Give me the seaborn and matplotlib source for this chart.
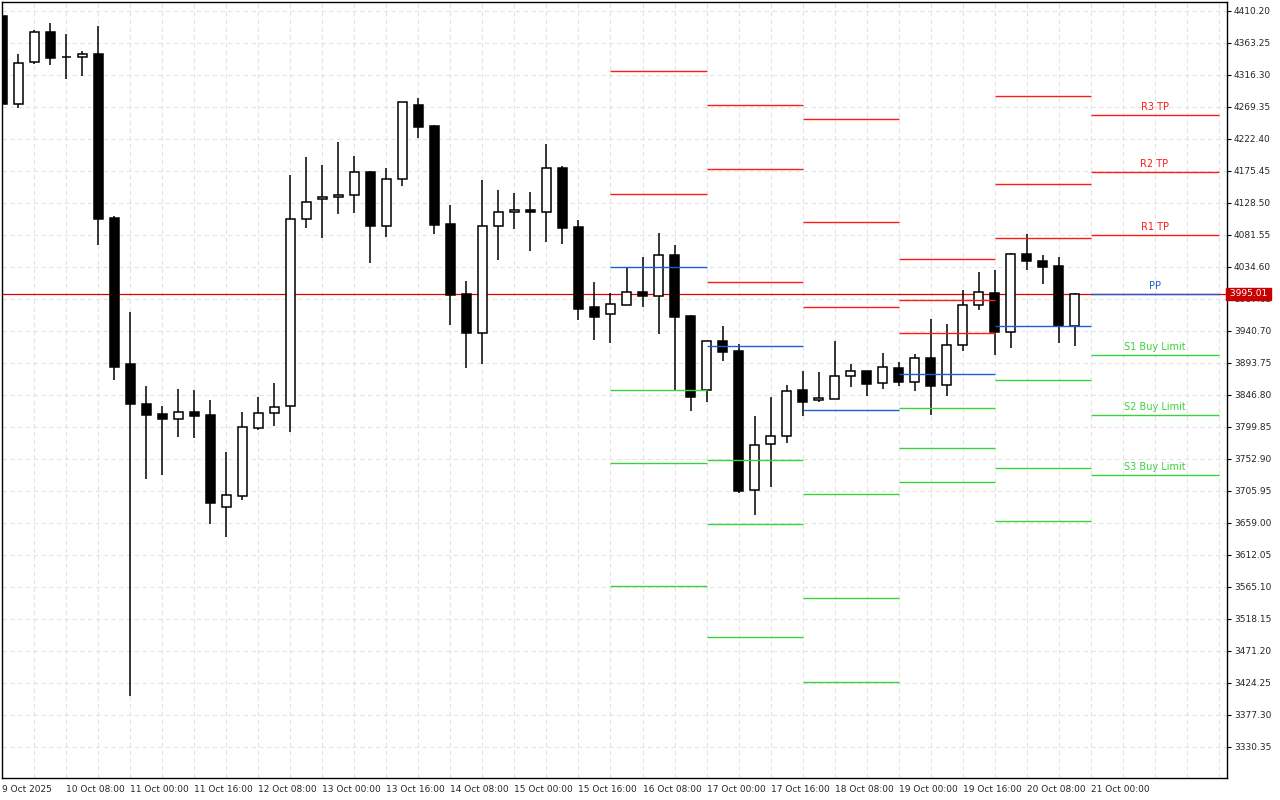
import matplotlib
matplotlib.use("Agg")
import matplotlib.pyplot as plt
import seaborn as sns
import numpy as np
import pandas as pd

sns.set_style("white")
plt.rcParams['font.family'] = ['DejaVu Sans']

opens = [4402.9,4273.8,4335.4,4379.4,4342.7,4342.7,4347.1,4106.5,3892.3,3833.6,
         3818.9,3811.6,3821.9,3817.5,3682.5,3698.6,3798.4,3820.4,3830.7,4105.0,
         4134.4,4137.3,4140.2,4174.0,4094.8,4163.7,4272.3,4241.5,4097.7,3995.0,
         3937.8,4094.8,4115.3,4118.2,4115.3,4179.9,4093.3,3975.9,3965.6,3978.8,
         3997.9,3992.1,4052.2,3962.7,3854.1,3926.0,3911.4,3707.4,3774.9,3786.6,
         3854.1,3839.5,3840.9,3874.7,3882.0,3864.4,3886.4,3865.9,3901.1,3861.5,
         3920.2,3978.8,3996.5,3939.2,4053.7,4043.4,4036.1,3948.0]
highs = [4405.8,4347.1,4382.3,4392.6,4376.5,4351.5,4388.2,4109.4,3968.6,3860.0,
         3830.7,3855.6,3854.1,3839.5,3763.2,3821.9,3843.9,3864.4,4169.6,4196.0,
         4184.3,4218.0,4197.5,4175.5,4179.9,4276.7,4282.6,4243.0,4125.6,4014.1,
         4162.2,4147.6,4143.2,4144.6,4215.1,4182.8,4103.6,4012.6,3996.5,4034.6,
         4049.3,4084.5,4066.9,3964.2,3926.0,3948.0,3921.6,3816.0,3843.9,3861.5,
         3882.0,3880.5,3926.0,3892.3,3882.0,3908.4,3895.2,3907.0,3958.3,3951.0,
         4000.9,4027.3,4030.2,4055.1,4083.0,4052.2,4049.3,3996.5]
lows = [4272.0,4267.9,4332.4,4331.0,4310.4,4314.8,4066.9,3868.8,3405.2,3723.6,
        3729.4,3785.2,3783.7,3657.5,3638.5,3692.7,3795.4,3801.3,3792.5,4091.8,
        4077.2,4112.4,4113.8,4040.5,4078.6,4153.4,4223.9,4083.0,3949.5,3886.4,
        3892.3,4044.9,4090.4,4058.1,4071.3,4068.3,3956.8,3927.5,3923.1,3978.8,
        3975.9,3936.3,3854.1,3823.3,3836.5,3896.7,3703.0,3670.7,3711.8,3776.4,
        3816.0,3836.5,3840.9,3858.5,3845.3,3855.6,3860.0,3852.7,3817.5,3845.3,
        3911.4,3971.5,3905.5,3915.8,4030.2,4009.7,3923.1,3918.7]
closes = [4273.8,4333.9,4379.4,4341.2,4342.0,4347.1,4105.0,3887.9,3833.6,3817.5,
          3811.6,3821.9,3816.0,3688.3,3700.1,3799.9,3820.4,3829.2,4105.0,4130.0,
          4137.3,4140.2,4174.0,4094.8,4163.7,4276.7,4240.0,4096.2,3993.5,3937.8,
          4094.8,4115.3,4118.2,4115.3,4179.9,4091.8,3973.0,3961.2,3980.3,3997.9,
          3992.1,4052.2,3961.2,3843.9,3926.0,3909.9,3705.9,3773.4,3786.6,3852.7,
          3836.5,3842.4,3874.7,3882.0,3862.9,3887.9,3865.9,3901.1,3860.0,3920.2,
          3978.8,3997.9,3939.2,4053.7,4043.4,4034.6,3948.0,3995.01]

# pivot levels per day: R3, R2, R1, PP, S1, S2, S3
pivot_start = [38, 44, 50, 56, 62, 68]
pivot_end = [44, 50, 56, 62, 68, 76]
R3 = [4429.3, 4272.3, 4251.8, 4046.3, 4285.5, 4257.6]
R2 = [4322.2, 4178.4, 4100.6, 3986.2, 4156.4, 4174.0]
R1 = [4141.7, 4012.6, 3975.9, 3937.8, 4077.2, 4081.6]
PP = [4034.6, 3918.7, 3824.8, 3877.6, 3948.0, 3995.0]
S1 = [3854.1, 3751.4, 3701.5, 3827.7, 3868.8, 3905.5]
S2 = [3747.0, 3657.5, 3549.0, 3769.0, 3739.7, 3817.5]
S3 = [3566.6, 3491.7, 3425.7, 3719.2, 3661.9, 3729.4]
level_labels = ["R3 TP", "R2 TP", "R1 TP", "PP", "S1 Buy Limit", "S2 Buy Limit", "S3 Buy Limit"]

x_tick_labels = ["9 Oct 2025","10 Oct 08:00","11 Oct 00:00","11 Oct 16:00","12 Oct 08:00",
                 "13 Oct 00:00","13 Oct 16:00","14 Oct 08:00","15 Oct 00:00","15 Oct 16:00",
                 "16 Oct 08:00","17 Oct 00:00","17 Oct 16:00","18 Oct 08:00","19 Oct 00:00",
                 "19 Oct 16:00","20 Oct 08:00","21 Oct 00:00"]
y_ticks = [4410.20,4363.25,4316.30,4269.35,4222.40,4175.45,4128.50,4081.55,4034.60,
           3987.65,3940.70,3893.75,3846.80,3799.85,3752.90,3705.95,3659.00,3612.05,
           3565.10,3518.15,3471.20,3424.25,3377.30,3330.35]
last_price = 3995.01

df = pd.DataFrame({"open": opens, "high": highs, "low": lows, "close": closes})
df["idx"] = np.arange(len(df))

fig = plt.figure(figsize=(12.8, 8.0), dpi=100)
ax = fig.add_axes([2/1280, 22/800, 1225/1280, 776/800])

ppu = 32/46.95
ymax = 4410.2 + 9/ppu
ymin = 4410.2 - 767/ppu
ax.set_ylim(ymin, ymax)
ax.set_xlim(-0.03, 76.53)

# grid
for k in np.arange(0, 77, 2):
    ax.axvline(k, color="#e3e3e3", lw=0.8, ls=(0, (4, 3)), zorder=0)
for v in y_ticks:
    ax.axhline(v, color="#e3e3e3", lw=0.8, ls=(0, (4, 3)), zorder=0)

# wicks
ax.vlines(df["idx"], df["low"], df["high"], color="black", lw=1.1, zorder=2)
# bodies
w = 0.62
for _, r in df.iterrows():
    o, c = r["open"], r["close"]
    lo, hi = min(o, c), max(o, c)
    h = max(hi - lo, 0.8)
    face = "white" if c > o else "black"
    ax.bar(r["idx"], h, bottom=lo, width=w, color=face, edgecolor="black", lw=1.1, zorder=3)

# current price line
ax.axhline(last_price, color="#e00000", lw=0.9, zorder=1)

# pivots
levels = [R3, R2, R1, PP, S1, S2, S3]
colors = ["#ff1a1a"]*3 + ["#1a5fd0"] + ["#3cd23c"]*3
for lv, col in zip(levels, colors):
    ax.hlines(lv, pivot_start, pivot_end, color=col, lw=1.0, zorder=4)
for lv, col, lab in zip(levels, colors, level_labels):
    ax.text(72.0, lv[-1] + 5, lab, color=col, fontsize=7, ha="center", va="bottom", zorder=5)

# axes styling
for s in ["top", "left", "right", "bottom"]:
    ax.spines[s].set_color("black")
    ax.spines[s].set_linewidth(1)
ax.yaxis.tick_right()
ax.set_yticks(y_ticks)
ax.set_yticklabels([f"{v:.2f}" for v in y_ticks], fontsize=6.5)
ax.set_xticks(np.arange(0, 4*len(x_tick_labels), 4))
ax.set_xticklabels(x_tick_labels, fontsize=6.5, ha="left")
ax.tick_params(axis="both", length=3, width=0.8, color="black", pad=2)

ax.text(1.0, last_price, f" {last_price:.2f} ", transform=ax.get_yaxis_transform(),
        ha="left", va="center", fontsize=6.5, color="white", clip_on=False, zorder=10,
        bbox=dict(boxstyle="square,pad=0.15", fc="#c80000", ec="#c80000"))

fig.savefig("out.png", dpi=100)
